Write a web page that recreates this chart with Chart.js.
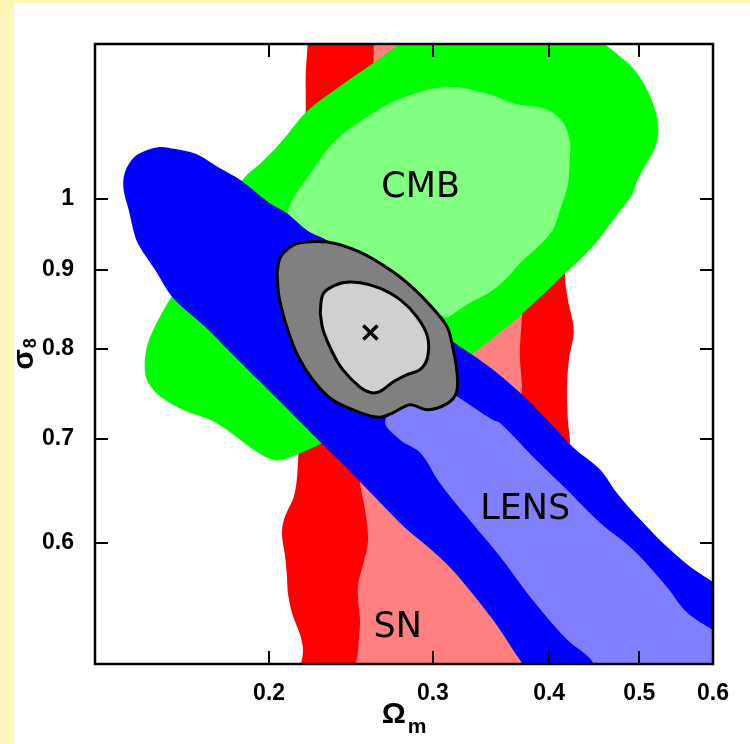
<!DOCTYPE html>
<html>
<head>
<meta charset="utf-8">
<script src="https://cdn.jsdelivr.net/npm/chart.js@4/dist/chart.umd.min.js"></script>
<style>
html,body{margin:0;padding:0;background:#fff7b9;}
canvas{display:block;}
</style>
</head>
<body>
<canvas id="c" width="750" height="744"></canvas>
<script>
// Axis ranges and tick values
const omegaRange = [0.13, 0.6];
const sigmaRange = [0.501, 1.259];
const omegaTicks = [0.2, 0.3, 0.4, 0.5, 0.6];
const sigmaTicks = [0.6, 0.7, 0.8, 0.9, 1];

// Confidence regions as [Omega_m, sigma_8] outlines
const snOuter = [
  [0.220,1.30],[0.220,1.259],[0.219,1.204],[0.219,1.141],[0.218,0.999],[0.216,0.742],
  [0.215,0.682],[0.213,0.645],[0.2075,0.621],[0.2065,0.607],[0.208,0.589],[0.209,0.572],
  [0.2096,0.556],[0.212,0.539],[0.216,0.523],[0.2175,0.512],[0.2175,0.482],
  [0.386,0.482],[0.399,0.551],[0.411,0.621],[0.421,0.692],[0.419,0.720],[0.418,0.753],
  [0.420,0.787],[0.425,0.823],[0.419,0.861],[0.416,0.891],[0.419,0.999],[0.421,1.158],[0.421,1.30]
];
const snInner = [
  [0.259,1.30],[0.259,1.222],[0.257,0.999],[0.252,0.742],[0.2505,0.658],[0.2536,0.630],
  [0.2555,0.602],[0.2524,0.581],[0.2493,0.564],[0.2493,0.551],[0.2505,0.534],[0.2493,0.512],
  [0.2493,0.482],[0.370,0.482],[0.370,0.5195],[0.371,0.585],[0.372,0.6395],[0.373,0.742],
  [0.374,0.756],[0.372,0.794],[0.374,0.839],[0.378,0.927],[0.378,1.30]
];
const cmbOuter = [
  [0.4425,1.285],[0.459,1.259],
  [0.479,1.233],[0.498,1.204],[0.516,1.157],[0.524,1.113],[0.520,1.080],[0.508,1.052],
  [0.498,1.029],[0.491,1.006],[0.474,0.978],[0.445,0.931],[0.416,0.895],[0.374,0.843],
  [0.3305,0.794],[0.298,0.759],[0.263,0.7245],[0.2297,0.697],[0.213,0.683],[0.2035,0.678],
  [0.193,0.688],[0.184,0.703],[0.174,0.719],[0.1625,0.730],[0.153,0.745],[0.148,0.763],
  [0.147,0.782],[0.148,0.805],[0.151,0.829],[0.157,0.8645],[0.173,0.941],[0.187,1.027],
  [0.197,1.058],[0.2065,1.090],[0.220,1.140],[0.240,1.186],[0.258,1.222],[0.276,1.259],
  [0.289,1.285]
];
const cmbInner = [
  [0.287,0.854],[0.263,0.897],[0.2355,0.924],[0.216,0.951],[0.2096,0.981],[0.2224,1.042],
  [0.2355,1.090],[0.258,1.135],[0.280,1.164],[0.3115,1.181],[0.344,1.169],[0.368,1.1515],
  [0.396,1.143],[0.413,1.123],[0.421,1.090],[0.421,1.060],[0.419,1.0225],[0.411,0.984],
  [0.403,0.954],[0.389,0.931],[0.374,0.912],[0.360,0.889],[0.3456,0.871],[0.329,0.857],
  [0.311,0.838]
];
const lensOuter = [
  [0.641,0.475],[0.405,0.475],[0.375,0.501],[0.3695,0.507],[0.352,0.530],[0.335,0.551],
  [0.315,0.576],[0.296,0.5965],[0.280,0.6135],[0.2632,0.637],[0.2444,0.667],[0.2269,0.697],
  [0.2107,0.729],[0.1956,0.762],[0.1826,0.794],[0.1707,0.827],
  [0.1574,0.8645],[0.151,0.899],[0.1447,0.935],[0.143,0.954],[0.1413,0.984],[0.1396,1.012],
  [0.1396,1.033],[0.1413,1.053],[0.1447,1.069],[0.152,1.080],[0.1586,1.077],[0.167,1.069],
  [0.176,1.049],[0.187,1.027],[0.1995,0.9955],[0.2096,0.978],[0.220,0.954],[0.2314,0.9395],
  [0.263,0.883],[0.2906,0.842],[0.317,0.807],[0.331,0.793],[0.348,0.776],[0.372,0.750],
  [0.391,0.728],[0.425,0.691],[0.4536,0.669],[0.473,0.646],[0.501,0.621],[0.535,0.5965],
  [0.567,0.579],[0.600,0.566],[0.641,0.551]
];
const lensInner = [
  [0.3185,0.746],[0.348,0.720],[0.354,0.717],[0.384,0.682],[0.418,0.649],[0.4536,0.618],
  [0.492,0.594],[0.535,0.562],[0.5625,0.541],[0.600,0.527],[0.641,0.516],[0.641,0.475],
  [0.459,0.475],[0.446,0.502],[0.418,0.5195],[0.384,0.551],[0.354,0.588],[0.326,0.624],
  [0.305,0.656],[0.2906,0.686],[0.2766,0.699],[0.2665,0.718],[0.2766,0.7365],[0.298,0.744]
];
const jointOuter = [
  [0.204,0.896],[0.2055,0.916],[0.2107,0.931],[0.216,0.937],[0.231,0.938],[0.2505,0.924],
  [0.272,0.897],[0.2885,0.871],[0.303,0.844],[0.311,0.826],[0.315,0.803],[0.3185,0.772],
  [0.318,0.750],[0.311,0.738],[0.296,0.731],[0.2835,0.7365],[0.272,0.728],[0.263,0.723],
  [0.2505,0.728],[0.234,0.742],[0.223,0.764],[0.215,0.791],[0.2095,0.823],[0.205,0.8645]
];
const jointInner = [
  [0.227,0.844],[0.228,0.8645],[0.231,0.874],[0.240,0.883],[0.2505,0.883],[0.263,0.876],
  [0.2766,0.861],[0.2885,0.839],[0.296,0.815],[0.296,0.790],[0.2906,0.776],[0.281,0.770],
  [0.272,0.762],[0.263,0.751],[0.257,0.750],[0.2505,0.756],[0.240,0.776],[0.234,0.796],
  [0.2286,0.823]
];
const bestFit = [[0.257, 0.82]];
const regionLabels = [['CMB', 0.291, 1.017], ['LENS', 0.377, 0.630], ['SN', 0.275, 0.529]];

const toXY = pts => pts.map(([x, y]) => ({x, y}));
const closed = pts => pts.concat([pts[0]]);

function region(points, color, order, outlined) {
  return {
    data: toXY(outlined ? closed(points) : points),
    showLine: true,
    fill: 'shape',
    backgroundColor: color,
    borderColor: outlined ? '#000000' : 'rgba(0,0,0,0)',
    borderWidth: outlined ? 3 : 0,
    pointRadius: 0,
    pointHoverRadius: 0,
    tension: 0.35,
    capBezierPoints: false,
    order
  };
}

const frameColor = '#000000';

const decor = {
  id: 'decor',
  beforeDraw(chart) {
    const ctx = chart.ctx;
    ctx.save();
    ctx.fillStyle = '#fff7b9';
    ctx.fillRect(0, 0, chart.width, chart.height);
    ctx.fillStyle = '#ffffff';
    ctx.fillRect(14, 3, chart.width - 14, chart.height - 3);
    ctx.restore();
  },
  afterDatasetsDraw(chart) {
    const {ctx, chartArea: a, scales: {x, y}} = chart;
    ctx.save();
    // region names
    ctx.fillStyle = '#000000';
    ctx.font = '35px "DejaVu Sans", sans-serif';
    ctx.textAlign = 'center';
    ctx.textBaseline = 'middle';
    regionLabels.forEach(([t, vx, vy]) => {
      ctx.fillText(t, x.getPixelForValue(vx), y.getPixelForValue(vy));
    });
    // inward tick marks on all four sides
    const tl = 13;
    ctx.strokeStyle = frameColor;
    ctx.lineWidth = 2;
    ctx.beginPath();
    omegaTicks.forEach(v => {
      const px = Math.round(x.getPixelForValue(v));
      ctx.moveTo(px, a.bottom); ctx.lineTo(px, a.bottom - tl);
      ctx.moveTo(px, a.top); ctx.lineTo(px, a.top + tl);
    });
    sigmaTicks.forEach(v => {
      const py = Math.round(y.getPixelForValue(v));
      ctx.moveTo(a.left, py); ctx.lineTo(a.left + tl, py);
      ctx.moveTo(a.right, py); ctx.lineTo(a.right - tl, py);
    });
    ctx.stroke();
    // frame
    ctx.lineWidth = 2.5;
    ctx.strokeRect(a.left, a.top, a.right - a.left, a.bottom - a.top);
    ctx.restore();
  },
  afterDraw(chart) {
    const {ctx, chartArea: a} = chart;
    ctx.save();
    ctx.fillStyle = '#000000';
    ctx.textBaseline = 'alphabetic';
    ctx.textAlign = 'left';
    // x axis title: Omega with subscript m
    const big = 'bold 30px "Liberation Sans", Arial, sans-serif';
    const small = 'bold 21px "Liberation Sans", Arial, sans-serif';
    ctx.font = big;
    const wO = ctx.measureText('\u03A9').width;
    ctx.font = small;
    const wm = ctx.measureText('m').width;
    const cx = (a.left + a.right) / 2;
    const x0 = cx - (wO + 2 + wm) / 2;
    ctx.font = big;
    ctx.fillText('\u03A9', x0, a.bottom + 59);
    ctx.font = small;
    ctx.fillText('m', x0 + wO + 2, a.bottom + 69);
    // y axis title: sigma with subscript 8, rotated
    const ySmall = 'bold 18px "Liberation Sans", Arial, sans-serif';
    ctx.font = big;
    const ws = ctx.measureText('\u03C3').width;
    ctx.font = ySmall;
    const w8 = ctx.measureText('8').width;
    const cy = (a.top + a.bottom) / 2;
    ctx.translate(a.left - 62, cy + (ws + 1 + w8) / 2);
    ctx.rotate(-Math.PI / 2);
    ctx.font = big;
    ctx.fillText('\u03C3', 0, 0);
    ctx.font = ySmall;
    ctx.fillText('8', ws + 1, 3);
    ctx.restore();
  }
};

const tickFont = {family: '"Liberation Sans", Arial, sans-serif', size: 23, weight: 'bold'};

new Chart(document.getElementById('c'), {
  type: 'scatter',
  data: {
    datasets: [
      region(snOuter, '#ff0000', 10, false),
      region(snInner, '#ff8080', 9, false),
      region(cmbOuter, '#00ff00', 8, false),
      region(cmbInner, '#80ff80', 7, false),
      region(lensOuter, '#0000ff', 6, false),
      region(lensInner, '#8080ff', 5, false),
      region(jointOuter, '#808080', 4, true),
      region(jointInner, '#d0d0d0', 3, true),
      {
        data: toXY(bestFit),
        pointStyle: 'crossRot',
        pointRadius: 10,
        pointBorderWidth: 3.5,
        borderColor: '#000000',
        pointBorderColor: '#000000',
        showLine: false,
        order: 1
      }
    ]
  },
  options: {
    responsive: false,
    animation: false,
    events: [],
    devicePixelRatio: 1,
    layout: {padding: {top: 44, right: 37, left: 0, bottom: 0}},
    plugins: {legend: {display: false}, tooltip: {enabled: false}},
    scales: {
      x: {
        type: 'logarithmic',
        min: omegaRange[0], max: omegaRange[1],
        grid: {display: false},
        border: {display: false},
        afterBuildTicks: s => { s.ticks = omegaTicks.map(v => ({value: v})); },
        afterFit: s => { s.height = 80; },
        ticks: {
          autoSkip: false, maxRotation: 0, minRotation: 0, padding: 8,
          color: '#000000', font: tickFont,
          callback: v => String(v)
        }
      },
      y: {
        type: 'logarithmic',
        min: sigmaRange[0], max: sigmaRange[1],
        grid: {display: false},
        border: {display: false},
        afterBuildTicks: s => { s.ticks = sigmaTicks.map(v => ({value: v})); },
        afterFit: s => { s.width = 95; },
        ticks: {
          autoSkip: false, padding: 13,
          color: '#000000', font: tickFont,
          callback: v => String(v)
        }
      }
    }
  },
  plugins: [decor]
});
</script>
</body>
</html>
